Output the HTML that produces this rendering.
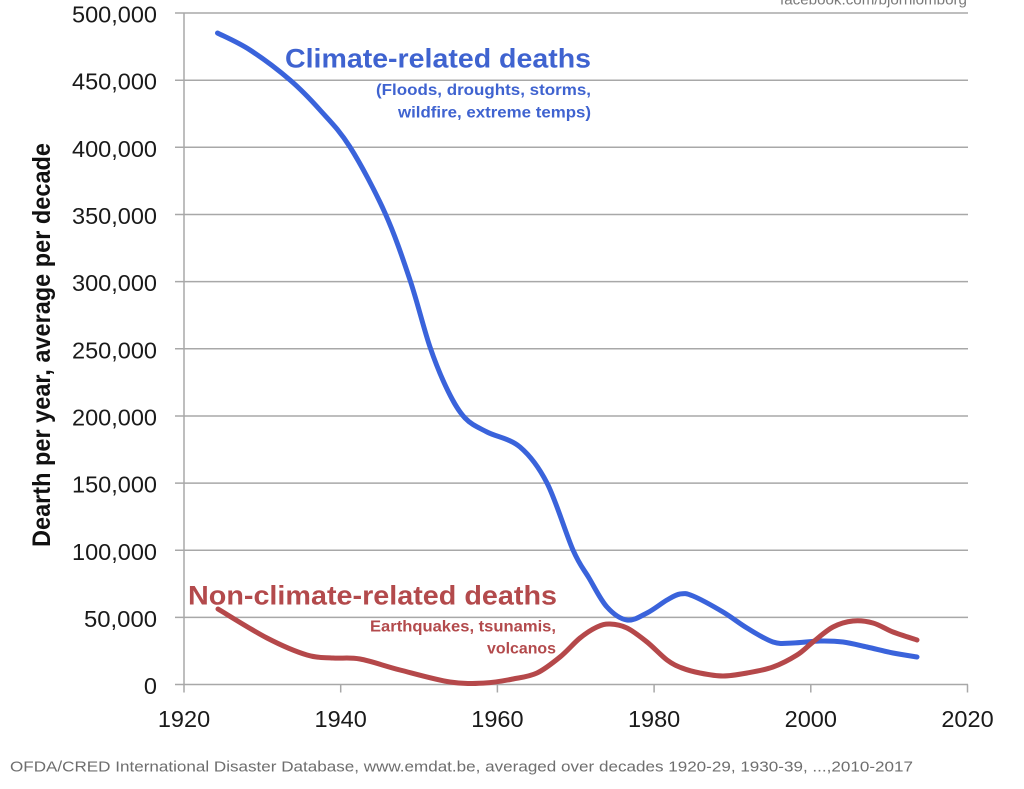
<!DOCTYPE html>
<html>
<head>
<meta charset="utf-8">
<style>
  html, body { margin: 0; padding: 0; background: #ffffff; }
  svg { display: block; }
  text { font-family: "Liberation Sans", Arial, sans-serif; }
</style>
</head>
<body>
<svg width="1024" height="789" viewBox="0 0 1024 789" xmlns="http://www.w3.org/2000/svg">
  <rect x="0" y="0" width="1024" height="789" fill="#ffffff"/>

  <!-- watermark -->
  <text x="967" y="4.5" font-size="15" fill="#7a7a7a" text-anchor="end" textLength="187" lengthAdjust="spacingAndGlyphs">facebook.com/bjornlomborg</text>

  <!-- gridlines -->
  <g stroke="#a8a8a8" stroke-width="1.5" fill="none">
    <line x1="175" y1="13" x2="968" y2="13"/>
    <line x1="175" y1="80.2" x2="968" y2="80.2"/>
    <line x1="175" y1="147.3" x2="968" y2="147.3"/>
    <line x1="175" y1="214.5" x2="968" y2="214.5"/>
    <line x1="175" y1="281.6" x2="968" y2="281.6"/>
    <line x1="175" y1="348.8" x2="968" y2="348.8"/>
    <line x1="175" y1="416" x2="968" y2="416"/>
    <line x1="175" y1="483.1" x2="968" y2="483.1"/>
    <line x1="175" y1="550.3" x2="968" y2="550.3"/>
    <line x1="175" y1="617.4" x2="968" y2="617.4"/>
    <line x1="175" y1="684.5" x2="968" y2="684.5"/>
    <!-- y axis -->
    <line x1="184" y1="13" x2="184" y2="692.5"/>
    <!-- x ticks -->
    <line x1="340.7" y1="684.5" x2="340.7" y2="692.5"/>
    <line x1="497.4" y1="684.5" x2="497.4" y2="692.5"/>
    <line x1="654.1" y1="684.5" x2="654.1" y2="692.5"/>
    <line x1="810.8" y1="684.5" x2="810.8" y2="692.5"/>
    <line x1="967.5" y1="684.5" x2="967.5" y2="692.5"/>
  </g>

  <!-- y tick labels -->
  <g font-size="23.5" fill="#1a1a1a" text-anchor="end">
    <text x="157" y="22.5" textLength="85" lengthAdjust="spacingAndGlyphs">500,000</text>
    <text x="157" y="89.7" textLength="85" lengthAdjust="spacingAndGlyphs">450,000</text>
    <text x="157" y="156.8" textLength="85" lengthAdjust="spacingAndGlyphs">400,000</text>
    <text x="157" y="224" textLength="85" lengthAdjust="spacingAndGlyphs">350,000</text>
    <text x="157" y="291.1" textLength="85" lengthAdjust="spacingAndGlyphs">300,000</text>
    <text x="157" y="358.3" textLength="85" lengthAdjust="spacingAndGlyphs">250,000</text>
    <text x="157" y="425.5" textLength="85" lengthAdjust="spacingAndGlyphs">200,000</text>
    <text x="157" y="492.6" textLength="85" lengthAdjust="spacingAndGlyphs">150,000</text>
    <text x="157" y="559.8" textLength="85" lengthAdjust="spacingAndGlyphs">100,000</text>
    <text x="157" y="626.9" textLength="73" lengthAdjust="spacingAndGlyphs">50,000</text>
    <text x="157" y="694">0</text>
  </g>

  <!-- x tick labels -->
  <g font-size="23.5" fill="#1a1a1a" text-anchor="middle">
    <text x="184" y="727">1920</text>
    <text x="340.7" y="727">1940</text>
    <text x="497.4" y="727">1960</text>
    <text x="654.1" y="727">1980</text>
    <text x="810.8" y="727">2000</text>
    <text x="967.5" y="727">2020</text>
  </g>

  <!-- y axis title -->
  <text transform="translate(50,345) rotate(-90)" font-size="25" font-weight="bold" fill="#111" text-anchor="middle" textLength="404" lengthAdjust="spacingAndGlyphs">Dearth per year, average per decade</text>

  <!-- series -->
  <path id="blue" fill="none" stroke="#3a63db" stroke-width="5" stroke-linecap="round" stroke-linejoin="round"
    d="M217.5,33 L250,50 L290,80 L320,110 L350,147 L385,213 L410,280 L430,347 L448,391 L465,418 L487,432 L520,447 L547,483 L573,550 L589,578 L607,607 L627,620 L647,613 L667,600 L680,594 L693,596 L723,612 L747,628 L773,642 L793,643 L820,641 L843,642 L867,647 L893,653 L917,657"/>
  <path id="red" fill="none" stroke="#b5484a" stroke-width="5" stroke-linecap="round" stroke-linejoin="round"
    d="M218,609 L267,638 L307,655 L333,658 L360,659 L400,670 L450,682 L485,683 L513,679 L537,673 L560,657 L580,638 L597,627 L610,624 L627,628 L647,642 L667,660 L682,668 L700,673 L723,676 L747,673 L773,667 L797,655 L813,642 L833,627 L853,621 L873,623 L893,632 L917,640"/>

  <!-- annotations -->
  <text x="285" y="67.5" font-size="27" font-weight="bold" fill="#3f63d0" textLength="306" lengthAdjust="spacingAndGlyphs">Climate-related deaths</text>
  <text x="591" y="95" font-size="16" font-weight="bold" fill="#3f63d0" text-anchor="end" textLength="215" lengthAdjust="spacingAndGlyphs">(Floods, droughts, storms,</text>
  <text x="591" y="117.5" font-size="16" font-weight="bold" fill="#3f63d0" text-anchor="end" textLength="193" lengthAdjust="spacingAndGlyphs">wildfire, extreme temps)</text>

  <text x="188" y="604.5" font-size="27" font-weight="bold" fill="#b34a4c" textLength="369" lengthAdjust="spacingAndGlyphs">Non-climate-related deaths</text>
  <text x="556" y="631.7" font-size="16" font-weight="bold" fill="#b34a4c" text-anchor="end" textLength="186" lengthAdjust="spacingAndGlyphs">Earthquakes, tsunamis,</text>
  <text x="556" y="653.3" font-size="16" font-weight="bold" fill="#b34a4c" text-anchor="end" textLength="69" lengthAdjust="spacingAndGlyphs">volcanos</text>

  <!-- footer -->
  <text x="10" y="771.5" font-size="15" fill="#6e6e6e" textLength="903" lengthAdjust="spacingAndGlyphs">OFDA/CRED International Disaster Database, www.emdat.be, averaged over decades 1920-29, 1930-39, ...,2010-2017</text>
</svg>
<script>
(function(){
  function smooth(id){
    var el = document.getElementById(id);
    if(!el) return;
    var d = el.getAttribute('d');
    var pts = d.replace(/[ML]/g,' ').trim().split(/\s+/).map(function(s){return s.split(',').map(Number);});
    var n = pts.length;
    var out = 'M' + pts[0][0] + ',' + pts[0][1];
    for (var i = 0; i < n - 1; i++) {
      var p0 = pts[i-1] || pts[i], p1 = pts[i], p2 = pts[i+1], p3 = pts[i+2] || pts[i+1];
      var c1x = p1[0] + (p2[0]-p0[0])/6, c1y = p1[1] + (p2[1]-p0[1])/6;
      var c2x = p2[0] - (p3[0]-p1[0])/6, c2y = p2[1] - (p3[1]-p1[1])/6;
      out += ' C' + c1x.toFixed(2) + ',' + c1y.toFixed(2) + ' ' + c2x.toFixed(2) + ',' + c2y.toFixed(2) + ' ' + p2[0] + ',' + p2[1];
    }
    el.setAttribute('d', out);
  }
  try { smooth('blue'); smooth('red'); } catch(e) {}
})();
</script>
</body>
</html>
